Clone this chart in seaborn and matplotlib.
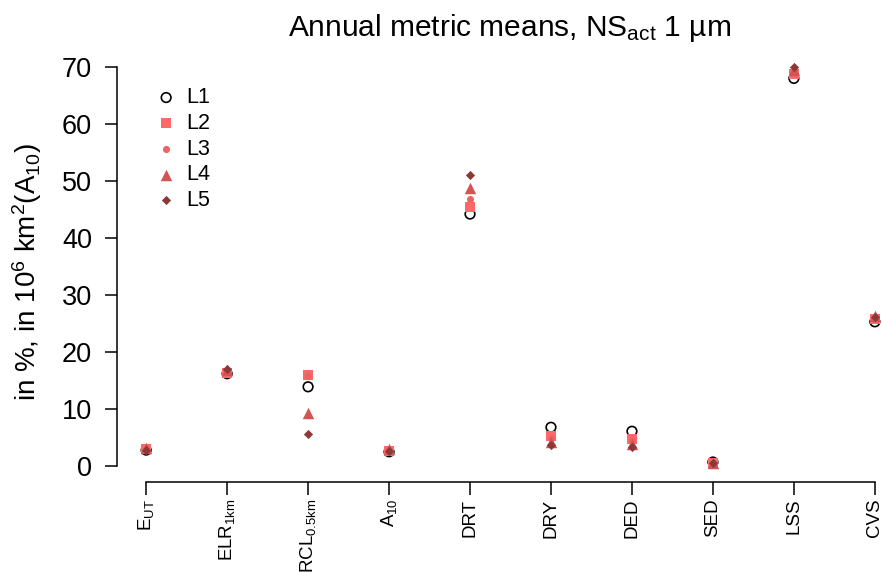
import matplotlib
matplotlib.use("Agg")
import matplotlib.pyplot as plt
import seaborn as sns
import pandas as pd

metrics = ["E$_{\\mathregular{UT}}$", "ELR$_{\\mathregular{1km}}$", "RCL$_{\\mathregular{0.5km}}$",
           "A$_{\\mathregular{10}}$", "DRT", "DRY", "DED", "SED", "LSS", "CVS"]
L1 = [2.8, 16.2, 13.9, 2.5, 44.2, 6.8, 6.1, 0.7, 68.0, 25.3]
L2 = [3.0, 16.4, 16.0, 2.7, 45.5, 5.3, 4.8, 0.6, 68.7, 25.8]
L3 = [3.0, 16.6, 15.8, 2.8, 46.8, 5.0, 4.5, 0.6, 69.0, 26.0]
L4 = [3.1, 16.9, 9.3, 3.0, 48.8, 4.3, 3.8, 0.6, 69.5, 26.4]
L5 = [2.9, 17.1, 5.6, 2.7, 51.0, 3.7, 3.4, 0.5, 70.0, 26.2]
series = {"L1": L1, "L2": L2, "L3": L3, "L4": L4, "L5": L5}

styles = {
    "L1": dict(marker="o", s=48, facecolor="none", edgecolor="black", linewidth=1.2),
    "L2": dict(marker="s", s=42, color="#ff6868", linewidth=0),
    "L3": dict(marker="o", s=26, color="#f06262", linewidth=0),
    "L4": dict(marker="^", s=68, color="#d25454", linewidth=0),
    "L5": dict(marker="D", s=22, color="#8c3838", linewidth=0),
}

rows = []
for name, vals in series.items():
    for i, v in enumerate(vals):
        rows.append({"pos": i, "value": v, "level": name})
df = pd.DataFrame(rows)

sns.set_theme(style="white", rc={"text.color": "black", "axes.labelcolor": "black",
                                 "xtick.color": "black", "ytick.color": "black"})
plt.rcParams["font.family"] = ["Liberation Sans", "DejaVu Sans"]
plt.rcParams["mathtext.fontset"] = "custom"
plt.rcParams["mathtext.rm"] = "Liberation Sans"
plt.rcParams["mathtext.it"] = "Liberation Sans"

W, H = 882, 572
fig = plt.figure(figsize=(W / 100, H / 100), dpi=100)
# plot region in pixels: left 117, bottom 482, top 51, right 904
ax = fig.add_axes([117 / W, 1 - 482 / H, (904 - 117) / W, (482 - 51) / H])

for name in series:
    sub = df[df["level"] == name]
    sns.scatterplot(data=sub, x="pos", y="value", ax=ax, label=name,
                    clip_on=False, zorder=3, **styles[name])

ax.set_xlim(-0.36, 9.36)
ax.set_ylim(-2.8, 72.8)

ax.set_xticks(range(len(metrics)))
ax.set_xticklabels(metrics, rotation=90, fontsize=13.5)
ax.set_yticks(range(0, 71, 10))
ax.set_yticklabels([str(v) for v in range(0, 71, 10)], fontsize=19.5)
ax.tick_params(axis="both", which="both", direction="out", length=9, width=1.1,
               color="black", labelcolor="black", bottom=True, left=True)
ax.tick_params(axis="x", pad=3)
ax.tick_params(axis="y", pad=9)

for side in ["top", "right"]:
    ax.spines[side].set_visible(False)
ax.spines["left"].set_bounds(0, 70)
ax.spines["bottom"].set_bounds(0, 9)
for side in ["left", "bottom"]:
    ax.spines[side].set_color("black")
    ax.spines[side].set_linewidth(1.1)

ax.set_xlabel("")
ax.set_ylabel("in %, in 10$^{\\mathregular{6}}$ km$^{\\mathregular{2}}$(A$_{\\mathregular{10}}$)",
              fontsize=20, color="black")
ax.yaxis.set_label_coords(-(117 - 44) / (904 - 117), (482 - 272) / (482 - 51))

fig.text(510 / W, 1 - 28 / H, "Annual metric means, NS$_{\\mathregular{act}}$ 1 µm",
         ha="center", va="center", fontsize=21.5, color="black")

leg = ax.legend(loc="upper left", bbox_to_anchor=(0.031, 0.936), frameon=False,
                fontsize=15.5, handletextpad=0.2, labelspacing=0.22, borderaxespad=0,
                handlelength=1.5, labelcolor="black")

fig.savefig("out.png", dpi=100)
